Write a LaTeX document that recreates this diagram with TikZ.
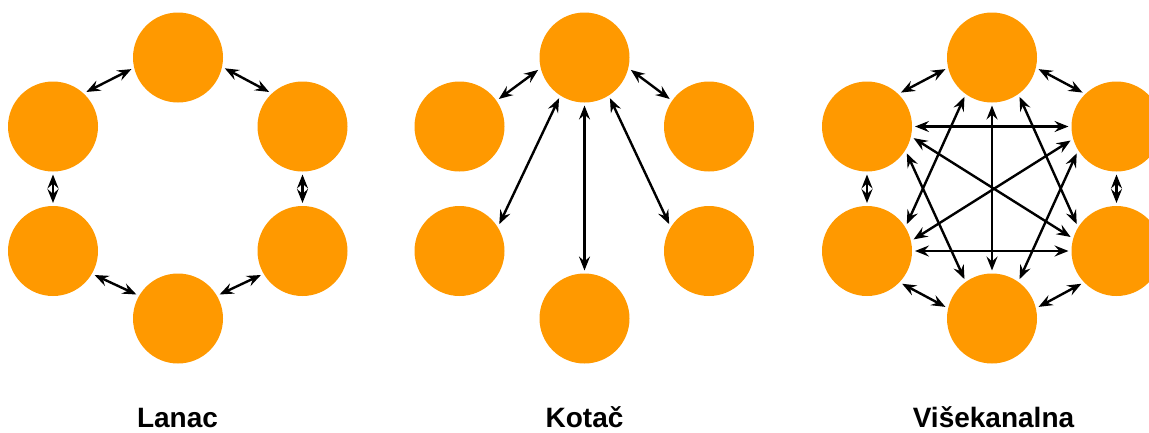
\documentclass[tikz,border=0pt]{standalone}
\usepackage{fontspec}
\setmainfont{Liberation Sans}
\usetikzlibrary{arrows.meta}
\definecolor{nodeorange}{RGB}{255,153,0}
\begin{document}
\begin{tikzpicture}[x=1pt,y=-1pt,
  peer/.style={circle,fill=nodeorange,minimum size=90pt,inner sep=0pt,outer sep=3pt},
  link/.style={line width=2.4pt,{Stealth[length=14pt,width=11pt,inset=5pt]}-{Stealth[length=14pt,width=11pt,inset=5pt]}},
  caption/.style={anchor=base,inner sep=0pt,font=\bfseries\fontsize{28}{28}\selectfont}]
\useasboundingbox (0,0) rectangle (1149,432);
\foreach \p/\dx in {L/0, K/406.5, V/814} {
  \node[peer] (\p-t)  at (178+\dx,57.5) {};
  \node[peer] (\p-ul) at (53+\dx,126.5) {};
  \node[peer] (\p-ur) at (302.5+\dx,126.5) {};
  \node[peer] (\p-ll) at (53+\dx,251) {};
  \node[peer] (\p-lr) at (302.5+\dx,251) {};
  \node[peer] (\p-b)  at (178+\dx,318.5) {};
}
% Lanac
\draw[link] (L-ul.46) -- (L-t.194);
\draw[link] (L-t.347) -- (L-ur.134);
\draw[link] (L-ul.270) -- (L-ll.90);
\draw[link] (L-ur.270) -- (L-lr.90);
\draw[link] (L-ll.330) -- (L-b.150);
\draw[link] (L-b.30) -- (L-lr.210);
% Kotac
\draw[link] (K-t.195) -- (K-ul.35);
\draw[link] (K-t.345) -- (K-ur.145);
\draw[link] (K-t.238) -- (K-ll.34);
\draw[link] (K-t.302) -- (K-lr.146);
\draw[link] (K-t.270) -- (K-b.90);
% Visekanalna
\draw[link] (V-ul.45) -- (V-t.194);
\draw[link] (V-t.346) -- (V-ur.135);
\draw[link] (V-ul.270) -- (V-ll.90);
\draw[link] (V-ur.270) -- (V-lr.90);
\draw[link] (V-ll.317) -- (V-b.166);
\draw[link] (V-b.14) -- (V-lr.223);
\draw[link] (V-ul.0) -- (V-ur.180);
\draw[link] (V-ll.0) -- (V-lr.180);
\draw[link] (V-t.270) -- (V-b.90);
\draw[link] (V-ul.346) -- (V-lr.163);
\draw[link] (V-ll.14) -- (V-ur.197);
\draw[link] (V-t.235) -- (V-ll.34);
\draw[link] (V-t.305) -- (V-lr.146);
\draw[link] (V-ul.326) -- (V-b.125);
\draw[link] (V-ur.214) -- (V-b.55);
% captions
\node[caption] (capL) at (177.5,427) {Lanac};
\node[caption] (capK) at (584.5,427) {Kotač};
\node[caption] (capV) at (993.5,427) {Višekanalna};
\end{tikzpicture}
\end{document}
